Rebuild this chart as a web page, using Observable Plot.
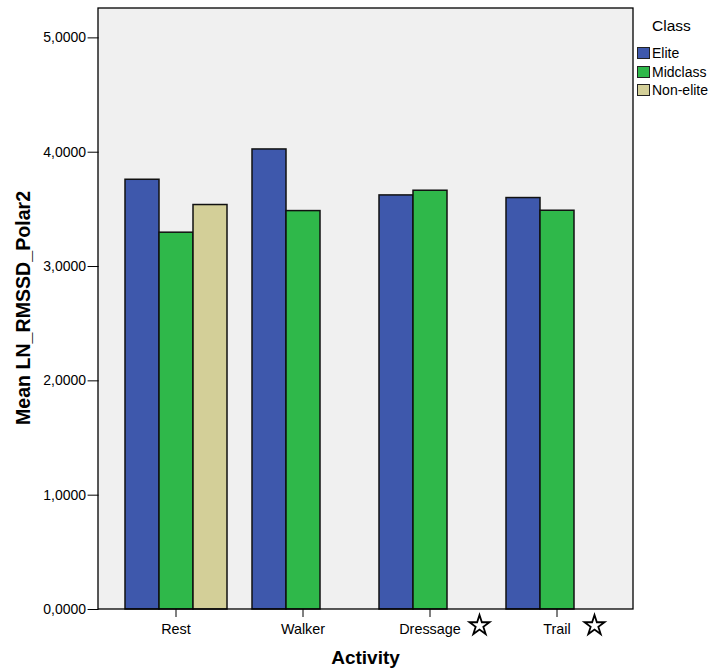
<!DOCTYPE html>
<html>
<head>
<meta charset="utf-8">
<script src="https://cdn.jsdelivr.net/npm/d3@7"></script>
<script src="https://cdn.jsdelivr.net/npm/@observablehq/plot@0.6"></script>
<style>
  html, body { margin: 0; padding: 0; background: #fff; }
  #wrap { position: relative; width: 715px; height: 672px; font-family: "Liberation Sans", Arial, sans-serif; }
  #legend { position: absolute; left: 637px; top: 0px; color: #000; }
  #legend .title { position: absolute; left: 15px; top: 17px; font-size: 15.5px; white-space: nowrap; }
  #legend .item { position: absolute; left: 0; height: 13px; white-space: nowrap; }
  #legend .sw { position: absolute; left: 0; top: 0; width: 11px; height: 10px; border: 1px solid #222; }
  #legend .lab { position: absolute; left: 15px; top: -2px; font-size: 14px; line-height: 16px; }
</style>
</head>
<body>
<div id="wrap"></div>
<script>
// ---- data ----
const activities = ["Rest", "Walker", "Dressage", "Trail"];
const classes = ["Elite", "Midclass", "Non-elite"];
const classColors = ["#3e58ac", "#2fb84a", "#d3cf98"];
const eliteValues = [3.759, 4.024, 3.622, 3.599];
const midclassValues = [3.296, 3.485, 3.663, 3.488];
const nonEliteValues = [3.538, null, null, null];
const yTicks = [0, 1, 2, 3, 4, 5];
const starredActivities = ["Dressage", "Trail"];
const yLabel = "Mean LN_RMSSD_Polar2";
const xLabel = "Activity";
const legendTitle = "Class";

const seriesByClass = [eliteValues, midclassValues, nonEliteValues];
const rows = [];
activities.forEach((a, i) => {
  classes.forEach((c, j) => {
    const v = seriesByClass[j][i];
    if (v != null) rows.push({activity: a, cls: c, value: v});
  });
});

const W = 715, H = 672, mL = 98, mR = 82, mT = 8, mB = 63;
const padIn = 24 / 127, padOut = 0.2;
const fxStep = (W - mL - mR) / (activities.length - padIn + 2 * padOut);
const outerGap = padOut * fxStep; // distance from frame edge to first facet
const fmt = d => d.toFixed(4).replace(".", ",");
const starDx = {Dressage: 15, Trail: 3};

const chart = Plot.plot({
  width: W, height: H,
  marginLeft: mL, marginRight: mR, marginTop: mT, marginBottom: mB,
  style: {fontFamily: "'Liberation Sans', Arial, sans-serif", fontSize: "14.4px", color: "#000", background: "transparent", overflow: "visible"},
  fx: {domain: activities, paddingInner: padIn, paddingOuter: padOut, label: null, axis: "bottom", tickSize: 8, tickPadding: 6},
  x: {domain: classes, padding: 0, axis: null},
  y: {domain: [0, 5.257], axis: null},
  color: {domain: classes, range: classColors},
  marks: [
    Plot.axisY({ticks: yTicks, tickFormat: fmt, tickSize: 11, tickPadding: 2, label: null, dx: -outerGap, fontSize: 14}),
    Plot.barY(rows, {fx: "activity", x: "cls", y: "value", fill: "cls", stroke: "#111", strokeWidth: 1.5}),
    ...starredActivities.map(a => Plot.dot([a], {
      fx: d => d, x: () => "Non-elite", y: () => 0,
      symbol: "star", r: 6.3, fill: "none", stroke: "#000", strokeWidth: 1.8,
      dx: starDx[a], dy: 16
    }))
  ]
});

const ns = "http://www.w3.org/2000/svg";
// plot area background and frame
const bg = document.createElementNS(ns, "rect");
bg.setAttribute("x", mL); bg.setAttribute("y", mT);
bg.setAttribute("width", W - mL - mR); bg.setAttribute("height", H - mT - mB);
bg.setAttribute("fill", "#f0f0f0");
const firstG = chart.querySelector("g");
chart.insertBefore(bg, firstG);
const fr = bg.cloneNode();
fr.setAttribute("fill", "none"); fr.setAttribute("stroke", "#000"); fr.setAttribute("stroke-width", "1.3");
chart.appendChild(fr);

// axis titles
const yt = document.createElementNS(ns, "text");
yt.setAttribute("transform", `translate(23.5,${(mT + H - mB) / 2 - 0.5}) rotate(-90)`);
yt.setAttribute("text-anchor", "middle");
yt.setAttribute("dy", "0.35em");
yt.setAttribute("font-weight", "bold");
yt.setAttribute("font-size", "19.6px");
yt.textContent = yLabel;
chart.appendChild(yt);
const xt = document.createElementNS(ns, "text");
xt.setAttribute("x", (mL + W - mR) / 2);
xt.setAttribute("y", 664);
xt.setAttribute("text-anchor", "middle");
xt.setAttribute("font-weight", "bold");
xt.setAttribute("font-size", "19px");
xt.textContent = xLabel;
chart.appendChild(xt);

const wrap = document.getElementById("wrap");
wrap.appendChild(chart);

// legend
const legend = d3.select(wrap).append("div").attr("id", "legend");
legend.append("div").attr("class", "title").text(legendTitle);
classes.forEach((c, i) => {
  const it = legend.append("div").attr("class", "item").style("top", (47 + i * 18.7) + "px");
  it.append("div").attr("class", "sw").style("background", classColors[i]);
  it.append("div").attr("class", "lab").text(c);
});
</script>
</body>
</html>
